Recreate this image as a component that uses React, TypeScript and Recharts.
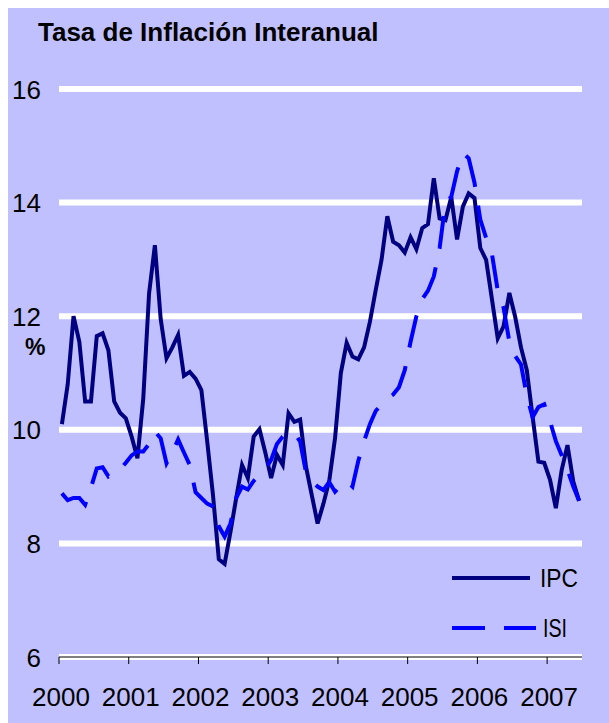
import { LineChart, Line, XAxis, YAxis, CartesianGrid } from "recharts";

// monthly year-on-year rates, Jan 2000 .. Jun 2007
const ipc = [
  10.1, 10.8, 12.0, 11.55, 10.5, 10.5, 11.65, 11.7, 11.4, 10.5, 10.3, 10.2,
  9.88, 9.5, 10.55, 12.4, 13.25, 11.95, 11.26, 11.45, 11.67, 10.95, 11.02, 10.9,
  10.7, 9.8, 8.85, 7.72, 7.64, 8.2, 8.8, 9.38, 9.15, 9.88, 10.01, 9.6,
  9.15, 9.56, 9.38, 10.29, 10.14, 10.18, 9.35, 8.85, 8.35, 8.7, 9.1, 9.85,
  11.0, 11.53, 11.29, 11.24, 11.45, 11.9, 12.46, 12.99, 13.76, 13.31, 13.25, 13.12,
  13.39, 13.18, 13.55, 13.62, 14.43, 13.72, 13.69, 14.1, 13.35, 13.93, 14.16, 14.08,
  13.2, 12.99, 12.3, 11.61, 11.82, 12.41, 11.99, 11.45, 11.05, 10.23, 9.44, 9.42,
  9.12, 8.62, 9.29, 9.73, 9.09, 8.75,
];

const isi = [
  8.88, 8.76, 8.8, 8.8, 8.68, 8.98, 9.32, 9.34, 9.18, 9.25, 9.3, 9.42,
  9.55, 9.62, 9.62, 9.75, 9.97, 9.85, 9.41, 9.6, 9.83, 9.6, 9.38, 8.9,
  8.8, 8.7, 8.65, 8.3, 8.12, 8.35, 8.8, 9.0, 8.95, 9.1, 9.2, 9.3,
  9.47, 9.75, 9.88, 9.95, 9.95, 9.79, 9.25, 9.1, 9.0, 8.94, 9.08, 8.91,
  9.02, 9.1, 9.0, 9.45, 9.8, 10.1, 10.33, 10.45, 10.55, 10.62, 10.75, 11.05,
  11.55, 12.0, 12.3, 12.45, 12.7, 13.2, 14.0, 14.1, 14.55, 14.87, 14.78, 14.35,
  13.7, 13.38, 13.1, 12.45, 12.15, 11.55, 11.3, 11.15, 10.6, 10.22, 10.4, 10.45,
  10.15, 9.8, 9.55, 9.3, 9.0, 8.75,
];

const years = ["2000", "2001", "2002", "2003", "2004", "2005", "2006", "2007"];
const yTicks = [6, 8, 10, 12, 14, 16];

const data = ipc.map((v, i) => ({ t: i + 0.5, ipc: v, isi: isi[i] }));
const yearTicks = years.map((_, k) => k * 12);

const FONT = "'Liberation Sans', Arial, sans-serif";

function YTick(props: any) {
  return (
    <text
      x={33}
      y={props.y}
      dy={9.5}
      textAnchor="end"
      fontSize={26}
      fontFamily={FONT}
      fill="#000"
    >
      {props.payload.value}
    </text>
  );
}

function XTick(props: any) {
  return (
    <text
      x={props.x + 2}
      y={props.y + 40}
      textAnchor="middle"
      fontSize={26}
      fontFamily={FONT}
      fill="#000"
    >
      {years[props.payload.value / 12]}
    </text>
  );
}

export default function App() {
  return (
    <div
      style={{
        position: "fixed",
        left: 8,
        top: 8,
        width: 601,
        height: 715,
        background: "#c0c0ff",
        fontFamily: FONT,
      }}
    >
      <div
        style={{
          position: "absolute",
          left: 30,
          top: 9,
          fontSize: 26,
          fontWeight: "bold",
          color: "#000",
          whiteSpace: "nowrap",
        }}
      >
        Tasa de Inflación Interanual
      </div>
      <div
        style={{
          position: "absolute",
          left: 17,
          top: 326,
          fontSize: 23,
          fontWeight: "bold",
        }}
      >
        %
      </div>

      <LineChart
        width={601}
        height={715}
        data={data}
        margin={{ top: 81, right: 27, bottom: 0, left: 0 }}
      >
        <CartesianGrid horizontal vertical={false} stroke="#ffffff" strokeWidth={6} />
        <XAxis
          dataKey="t"
          type="number"
          domain={[0, 90]}
          ticks={yearTicks}
          interval={0}
          tick={<XTick />}
          axisLine={{ stroke: "#000", strokeWidth: 1 }}
          tickLine={{ stroke: "#000" }}
          tickSize={7}
          height={66}
        />
        <YAxis
          width={51}
          domain={[6, 16]}
          ticks={yTicks}
          interval={0}
          axisLine={false}
          tickLine={false}
          tick={<YTick />}
        />
        <Line
          type="linear"
          dataKey="ipc"
          stroke="#000080"
          strokeWidth={4}
          dot={false}
          isAnimationActive={false}
        />
        <Line
          type="linear"
          dataKey="isi"
          stroke="#0000ff"
          strokeWidth={4}
          strokeDasharray="33 19"
          dot={false}
          isAnimationActive={false}
        />
      </LineChart>

      {/* legend */}
      <svg
        width={140}
        height={90}
        style={{ position: "absolute", left: 444, top: 562, overflow: "visible" }}
      >
        <line x1={0} y1={8} x2={78} y2={8} stroke="#000080" strokeWidth={4} />
        <text
          x={88}
          y={17}
          fontSize={25}
          fontFamily={FONT}
          textLength={38}
          lengthAdjust="spacingAndGlyphs"
        >
          IPC
        </text>
        <line
          x1={0}
          y1={58}
          x2={84}
          y2={58}
          stroke="#0000ff"
          strokeWidth={4}
          strokeDasharray="33 19"
        />
        <text
          x={91}
          y={67}
          fontSize={25}
          fontFamily={FONT}
          textLength={24}
          lengthAdjust="spacingAndGlyphs"
        >
          ISI
        </text>
      </svg>
    </div>
  );
}
